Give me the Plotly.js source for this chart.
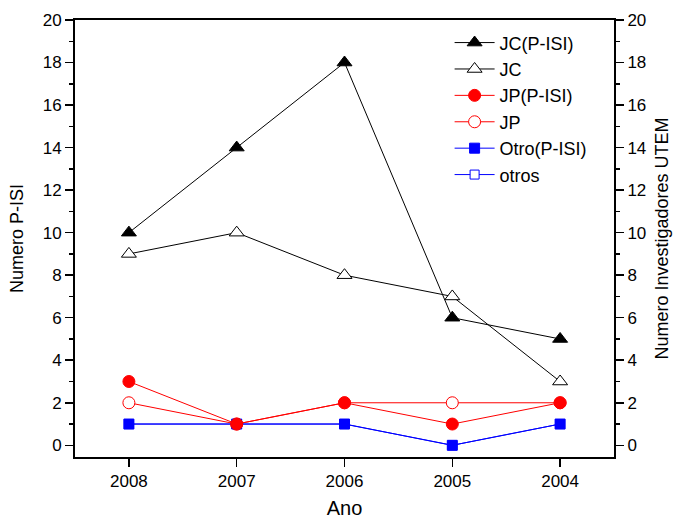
<!DOCTYPE html>
<html>
<head>
<meta charset="utf-8">
<script src="https://cdn.plot.ly/plotly-3.0.1.min.js"></script>
<style>html,body{margin:0;padding:0;background:#fff;}#chart{width:675px;height:519px;}</style>
</head>
<body>
<div id="chart"></div>
<script>
const years = ["2008", "2007", "2006", "2005", "2004"];
const jcPISI = [10, 14, 18, 6, 5];
const jc = [9, 10, 8, 7, 3];
const jpPISI = [3, 1, 2, 1, 2];
const jp = [2, 1, 2, 2, 2];
const otroPISI = [1, 1, 1, 0, 1];
const otros = [1, 1, 1, 0, 1];

function tr(name, y, color, symbol, size, rank, axis, open) {
  return {
    x: years, y: y, name: name, type: 'scatter', mode: 'lines+markers',
    line: {color: color, width: 1},
    marker: {symbol: symbol, size: size, color: open ? '#ffffff' : color, line: {color: color, width: 1}},
    legendrank: rank, yaxis: axis, cliponaxis: false
  };
}
const traces = [
  tr('otros', otros, '#0000ff', 'square', 9, 6, 'y', true),
  tr('JP', jp, '#ff0000', 'circle', 12, 4, 'y', true),
  tr('JC', jc, '#000000', 'triangle-up', 13, 2, 'y', true),
  tr('Otro(P-ISI)', otroPISI, '#0000ff', 'square', 10, 5, 'y2', false),
  tr('JP(P-ISI)', jpPISI, '#ff0000', 'circle', 12, 3, 'y2', false),
  tr('JC(P-ISI)', jcPISI, '#000000', 'triangle-up', 13, 1, 'y2', false)
];

const font = {family: 'Liberation Sans, Arial, sans-serif', color: '#000'};
const layout = {
  width: 675, height: 519,
  margin: {l: 75, r: 61, t: 20, b: 62},
  paper_bgcolor: '#fff', plot_bgcolor: '#fff',
  font: Object.assign({size: 17}, font),
  showlegend: true,
  legend: {x: 0.695, y: 0.99, xanchor: 'left', yanchor: 'top', bgcolor: 'rgba(0,0,0,0)',
           font: Object.assign({size: 18}, font), tracegroupgap: 0, itemwidth: 40},
  xaxis: {
    type: 'category', range: [-0.5, 4.5], showline: true, linecolor: '#000', linewidth: 2,
    mirror: true, ticks: 'outside', ticklen: 8, tickwidth: 1.5, tickcolor: '#000',
    showgrid: false, zeroline: false, tickfont: {size: 17},
    title: {text: 'Ano', font: {size: 20}, standoff: 12}
  },
  yaxis: {
    range: [-0.55, 20], dtick: 2, tick0: 0, showline: true, linecolor: '#000', linewidth: 2,
    ticks: 'outside', ticklen: 8, tickwidth: 1.5, tickcolor: '#000', showgrid: false, zeroline: false,
    minor: {dtick: 1, ticks: 'outside', ticklen: 4, tickwidth: 1.5, tickcolor: '#000'},
    tickfont: {size: 17}, title: {text: 'Numero P-ISI', font: {size: 18}, standoff: 14}
  },
  yaxis2: {
    overlaying: 'y', side: 'right', range: [-0.55, 20], dtick: 2, tick0: 0, showline: true,
    linecolor: '#000', linewidth: 2, ticks: 'outside', ticklen: 8, tickwidth: 1.5, tickcolor: '#000',
    showgrid: false, zeroline: false,
    minor: {dtick: 1, ticks: 'outside', ticklen: 4, tickwidth: 1.5, tickcolor: '#000'},
    tickfont: {size: 17}, title: {text: 'Numero Investigadores UTEM', font: {size: 18}, standoff: 10}
  }
};
Plotly.newPlot('chart', traces, layout, {displayModeBar: false, staticPlot: true});
</script>
</body>
</html>
